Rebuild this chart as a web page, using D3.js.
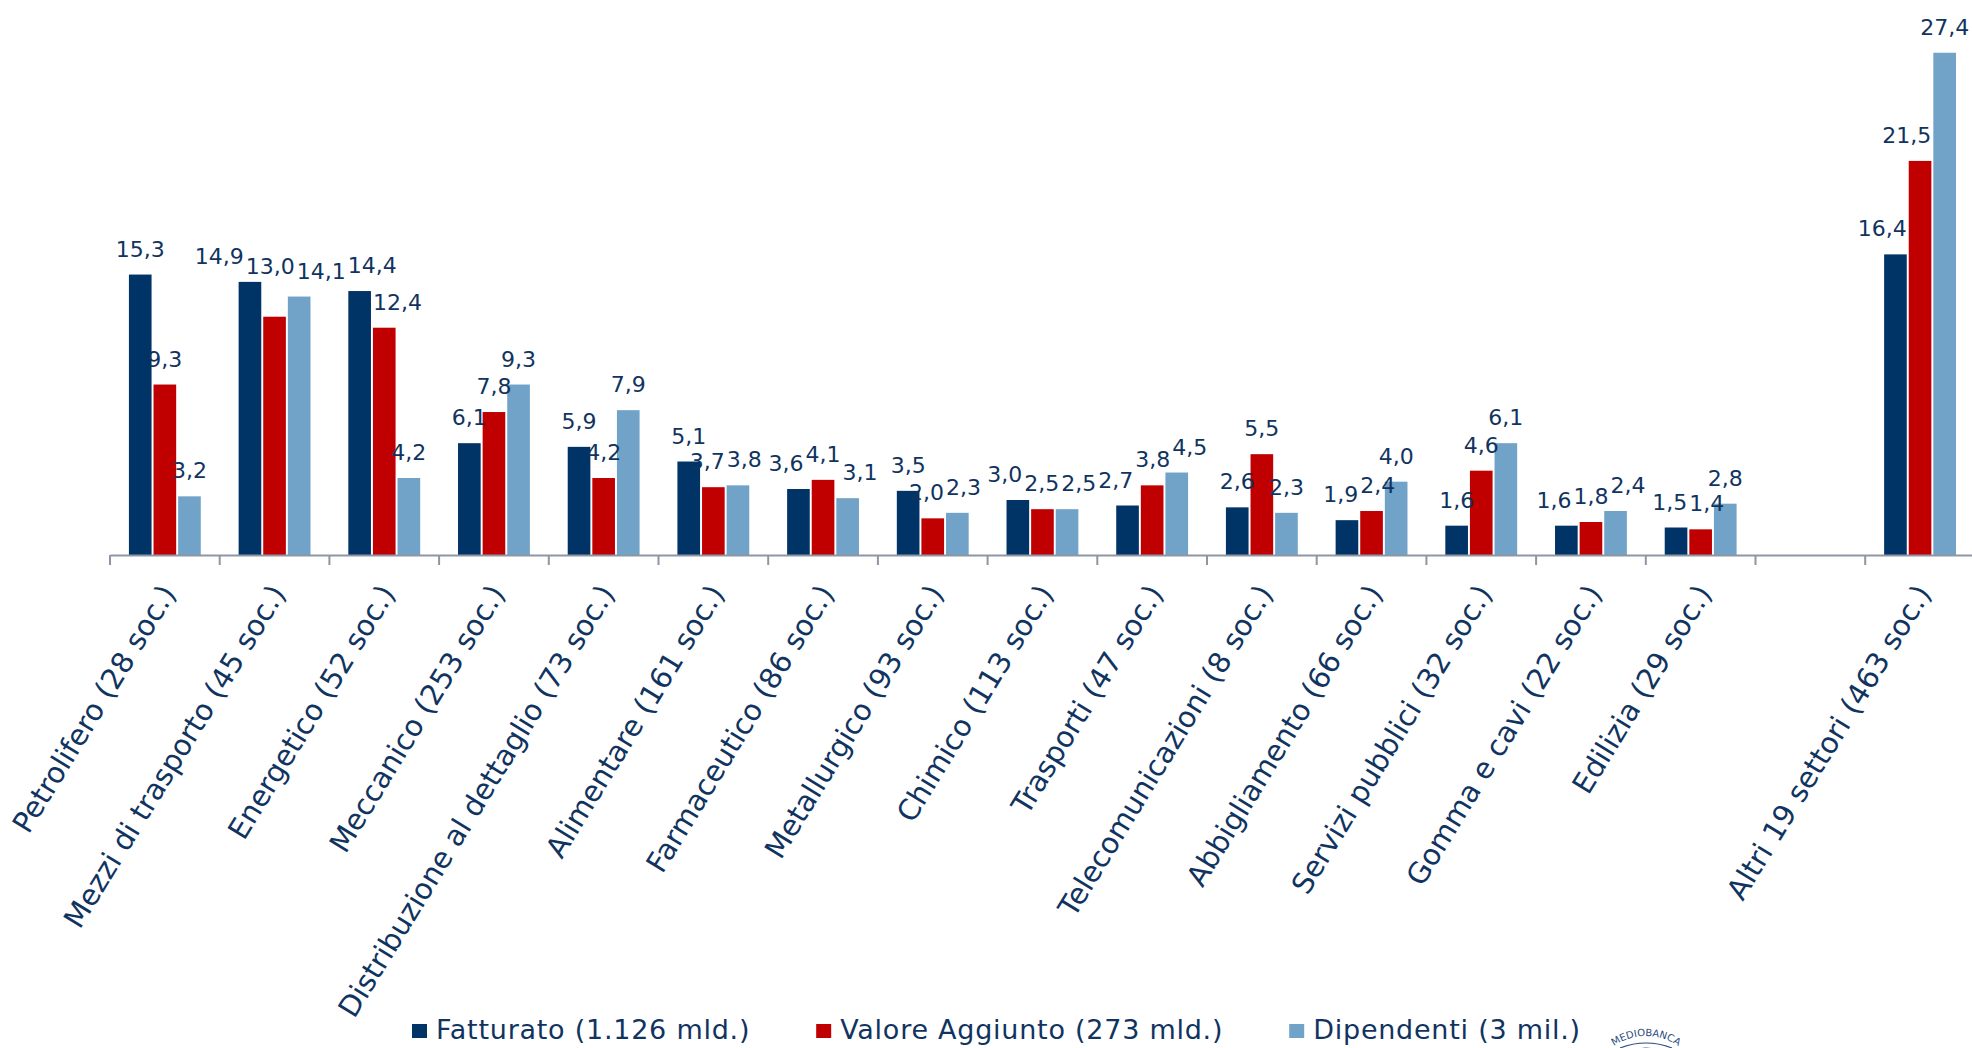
<!DOCTYPE html>
<html>
<head>
<meta charset="utf-8">
<script src="https://cdn.jsdelivr.net/npm/d3@7"></script>
<style>
  html, body { margin: 0; padding: 0; background: #ffffff; }
  svg { display: block; }
</style>
</head>
<body>
<script>
// ---- data ----
const categories = [
  "Petrolifero (28 soc.)",
  "Mezzi di trasporto (45 soc.)",
  "Energetico (52 soc.)",
  "Meccanico (253 soc.)",
  "Distribuzione al dettaglio (73 soc.)",
  "Alimentare (161 soc.)",
  "Farmaceutico (86 soc.)",
  "Metallurgico (93 soc.)",
  "Chimico (113 soc.)",
  "Trasporti (47 soc.)",
  "Telecomunicazioni (8 soc.)",
  "Abbigliamento (66 soc.)",
  "Servizi pubblici (32 soc.)",
  "Gomma e cavi (22 soc.)",
  "Edilizia (29 soc.)",
  "",
  "Altri 19 settori (463 soc.)"
];
const fatturato      = [15.3, 14.9, 14.4, 6.1, 5.9, 5.1, 3.6, 3.5, 3.0, 2.7, 2.6, 1.9, 1.6, 1.6, 1.5, null, 16.4];
const valoreAggiunto = [ 9.3, 13.0, 12.4, 7.8, 4.2, 3.7, 4.1, 2.0, 2.5, 3.8, 5.5, 2.4, 4.6, 1.8, 1.4, null, 21.5];
const dipendenti     = [ 3.2, 14.1,  4.2, 9.3, 7.9, 3.8, 3.1, 2.3, 2.5, 4.5, 2.3, 4.0, 6.1, 2.4, 2.8, null, 27.4];
const seriesNames = ["Fatturato (1.126 mld.)", "Valore Aggiunto (273 mld.)", "Dipendenti (3 mil.)"];
const seriesColors = ["#003366", "#C00000", "#71A2C7"];
const seriesValues = [fatturato, valoreAggiunto, dipendenti];

// ---- layout ----
const W = 1972, H = 1048;
const axisY = 555;
const textColor = "#10345F";
const fmt = v => v.toFixed(1).replace(".", ",");

const svg = d3.select("body").append("svg")
  .attr("width", W).attr("height", H)
  .style("font-family", "'DejaVu Sans', Verdana, sans-serif");

const x0 = d3.scaleBand()
  .domain(d3.range(categories.length))
  .range([110, 110 + categories.length * 109.7])
  .paddingInner(0.345)
  .paddingOuter(0.1725);

const x1 = d3.scaleBand()
  .domain(d3.range(seriesNames.length))
  .range([0, x0.bandwidth()])
  .paddingInner(0.08);

const y = d3.scaleLinear().domain([0, 30]).range([axisY, axisY - 30 * 18.33]);

// bars
const barData = [];
seriesValues.forEach((vals, s) => {
  vals.forEach((v, i) => {
    if (v !== null) {
      const bx = x0(i) + x1(s);
      barData.push({ s, i, v, left: bx, right: bx + x1.bandwidth(), top: y(v) });
    }
  });
});

svg.append("g").selectAll("rect").data(barData).join("rect")
  .attr("x", d => d.left)
  .attr("y", d => d.top)
  .attr("width", x1.bandwidth())
  .attr("height", d => y(0) - d.top)
  .attr("fill", d => seriesColors[d.s]);

// axis
const axisG = svg.append("g").attr("transform", `translate(0,${axisY})`)
  .call(d3.axisBottom(x0).tickSize(0).tickSizeOuter(0).tickFormat(""));
axisG.select(".domain").attr("stroke", "#8E95A4").attr("stroke-width", 2);

const step = x0.step();
const start = x0.range()[0];
axisG.append("g").selectAll("line").data(d3.range(categories.length + 1)).join("line")
  .attr("x1", k => start + k * step).attr("x2", k => start + k * step)
  .attr("y1", 0).attr("y2", 10)
  .attr("stroke", "#8E95A4").attr("stroke-width", 2);

// category labels
svg.append("g").selectAll("text").data(categories.map((c, i) => ({ c, i })).filter(d => d.c !== ""))
  .join("text")
  .attr("transform", d => `translate(${x0(d.i) + x0.bandwidth() / 2 + 12},${axisY + 38}) rotate(-58.5)`)
  .attr("text-anchor", "end")
  .attr("font-size", 29)
  .attr("fill", textColor)
  .text(d => d.c);

// value labels: avoid taller neighbour bars, then de-overlap horizontally
const labelG = svg.append("g");
const labels = barData.map(d => ({
  ...d,
  cx: (d.left + d.right) / 2,
  x: (d.left + d.right) / 2,
  yb: d.top - 18
}));
const lt = labelG.selectAll("text").data(labels).join("text")
  .attr("text-anchor", "middle")
  .attr("font-size", 22)
  .attr("fill", textColor)
  .text(d => fmt(d.v));
lt.each(function (d) { d.w = this.getComputedTextLength(); });

const tol = 8;
function hits(L) {
  const x1b = L.x - L.w / 2, x2b = L.x + L.w / 2, y1b = L.yb - 17, y2b = L.yb + 3;
  return barData.filter(b => b.i === L.i && b.s !== L.s && b.v > L.v &&
    Math.min(b.right, x2b) - Math.max(b.left, x1b) > tol && b.top < y2b);
}
labels.forEach(L => {
  const h = hits(L);
  if (!h.length) return;
  const left = h.filter(b => b.s < L.s), right = h.filter(b => b.s > L.s);
  if (left.length && !right.length) L.x = d3.max(left, b => b.right) + 2 + L.w / 2;
  else if (right.length && !left.length) L.x = d3.min(right, b => b.left) - 2 - L.w / 2;
  let h2 = hits(L);
  if (h2.length) {
    L.x = L.cx;
    let guard = 0;
    while ((h2 = hits(L)).length && guard++ < 5) L.yb = d3.min(h2, b => b.top) - 8;
  }
});

labels.sort((a, b) => a.x - b.x);
const lh = 22;
for (let it = 0; it < 80; it++) {
  let moved = false;
  for (let a = 0; a < labels.length; a++) {
    for (let b = a + 1; b < labels.length; b++) {
      const A = labels[a], B = labels[b];
      if (Math.abs(A.yb - B.yb) >= lh) continue;
      const need = (A.w + B.w) / 2 + 2;
      const dist = B.x - A.x;
      if (dist < need) {
        const o = (need - dist) / 2;
        A.x -= o; B.x += o; moved = true;
      }
    }
  }
  if (!moved) break;
}
lt.attr("x", d => d.x).attr("y", d => d.yb);

// legend
const legend = svg.append("g").attr("transform", "translate(412,0)");
let lx = 0;
seriesNames.forEach((name, s) => {
  const g = legend.append("g").attr("transform", `translate(${lx},0)`);
  g.append("rect").attr("x", 0).attr("y", 1024).attr("width", 15).attr("height", 14)
    .attr("fill", seriesColors[s]);
  const t = g.append("text").attr("x", 24).attr("y", 1039)
    .attr("font-size", 27).attr("letter-spacing", "0.75px")
    .attr("fill", textColor).text(name);
  lx += 24 + t.node().getComputedTextLength() + 66;
});

// small logo mark (partially visible at bottom)
const logo = svg.append("g").attr("transform", "translate(1646,1092)");
const r = 56;
logo.append("path").attr("id", "logoArc")
  .attr("d", `M ${-r},0 A ${r},${r} 0 0,1 ${r},0`).attr("fill", "none");
logo.append("text").attr("font-size", 10).attr("fill", "#2E4A7E")
  .append("textPath").attr("href", "#logoArc").attr("startOffset", "50%").attr("text-anchor", "middle")
  .text("MEDIOBANCA");
logo.append("path").attr("d", `M -26,-44 Q 0,-54 26,-44`).attr("fill", "none")
  .attr("stroke", "#2E4A7E").attr("stroke-width", 1.2);
logo.append("path").attr("d", `M -20,-40 Q 0,-48 20,-40`).attr("fill", "none")
  .attr("stroke", "#2E4A7E").attr("stroke-width", 1);
</script>
</body>
</html>
